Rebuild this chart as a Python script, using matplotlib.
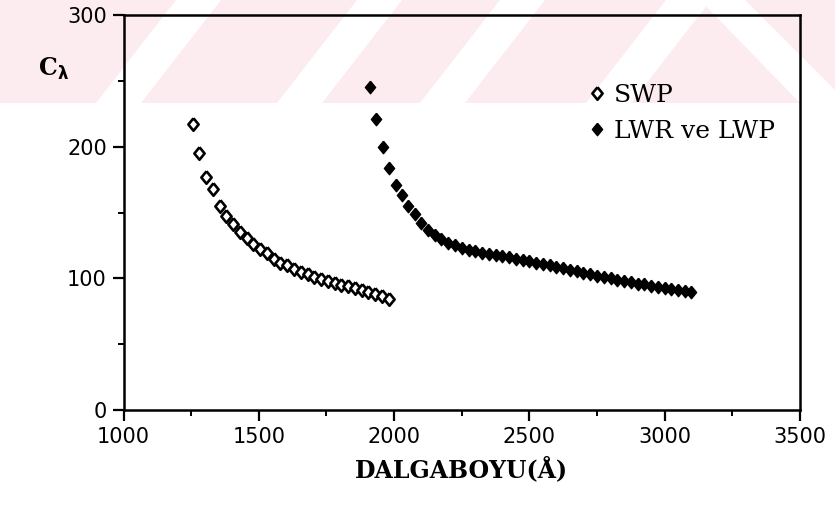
import matplotlib
matplotlib.use("Agg")
import matplotlib.pyplot as plt
from matplotlib.ticker import MultipleLocator
from matplotlib.patches import Polygon

# ---- data ----
swp_x = [1255, 1280, 1305, 1330, 1355, 1380, 1405, 1430, 1455, 1480,
         1505, 1530, 1555, 1580, 1605, 1630, 1655, 1680, 1705, 1730,
         1755, 1780, 1805, 1830, 1855, 1880, 1905, 1930, 1955, 1980]
swp_y = [217, 195, 177, 168, 155, 147, 141, 135, 131, 126,
         122, 119, 115, 112, 110, 107, 105, 103, 101, 99.5,
         98, 96.5, 95, 94, 92.5, 91, 89.5, 88, 86.5, 84]

lwr_x = [1910, 1934, 1958, 1981, 2006, 2028, 2052, 2076, 2100, 2125,
         2150, 2175, 2200, 2225, 2250, 2275, 2300, 2325, 2350, 2375,
         2400, 2425, 2450, 2475, 2500, 2525, 2550, 2575, 2600, 2625,
         2650, 2675, 2700, 2725, 2750, 2775, 2800, 2825, 2850, 2875,
         2900, 2925, 2950, 2975, 3000, 3025, 3050, 3075, 3098]
lwr_y = [245, 221, 200, 184, 171, 163, 155, 149, 142, 137,
         133, 130, 127, 125, 123, 121.5, 120.5, 119.5, 118.5, 117.5,
         117, 116, 115, 114, 113, 112, 111, 110, 108.5, 107.5,
         106.5, 105.5, 104, 103, 102, 101, 100, 99, 98, 97,
         96, 95.5, 94.5, 93.5, 93, 92, 91.5, 90.5, 89.5]

series_labels = ["SWP", "LWR ve LWP"]
x_ticks = [1000, 1500, 2000, 2500, 3000, 3500]
y_ticks = [0, 100, 200, 300]
x_label = "DALGABOYU(Å)"
y_label = r"C$_\mathbf{\lambda}$"

W, H = 835, 509

# ---- figure ----
fig = plt.figure(figsize=(W / 100, H / 100), dpi=100)
fig.patch.set_facecolor("white")

# faint watermark band at the top of the scan (background only)
def px_poly(pts, color):
    return Polygon([(x / W, 1 - y / H) for x, y in pts], closed=True,
                   transform=fig.transFigure, facecolor=color,
                   edgecolor="none", zorder=-10)

pink = "#fdecef"
band_bottom = 103
fig.add_artist(px_poly([(0, 0), (W, 0), (W, band_bottom), (0, band_bottom)], pink))
for bx in [96, 277, 420, 586]:
    fig.add_artist(px_poly([(bx, band_bottom), (bx + 45, band_bottom),
                            (bx + 45 + 80, 0), (bx + 80, 0)], "white"))
fig.add_artist(px_poly([(700, 0), (745, 0), (835, 90), (835, band_bottom),
                        (800, band_bottom)], "white"))

ax = fig.add_axes([0.148, 0.1945, 0.810, 0.776])
ax.set_facecolor("none")
ax.set_zorder(1)

diamond = [(0, 1), (0.82, 0), (0, -1), (-0.82, 0), (0, 1)]

ax.plot(swp_x, swp_y, linestyle="none", marker=diamond, markersize=9,
        markerfacecolor="white", markeredgecolor="black", markeredgewidth=1.9,
        label=series_labels[0])
ax.plot(lwr_x, lwr_y, linestyle="none", marker=diamond, markersize=9,
        markerfacecolor="black", markeredgecolor="black", markeredgewidth=1.0,
        label=series_labels[1])

ax.set_xlim(1000, 3500)
ax.set_ylim(0, 300)
ax.set_xticks(x_ticks)
ax.set_yticks(y_ticks)
ax.xaxis.set_minor_locator(MultipleLocator(250))
ax.yaxis.set_minor_locator(MultipleLocator(50))

tickfont = dict(family="DejaVu Sans", size=15)
ax.set_xticklabels([str(t) for t in x_ticks], fontdict=tickfont)
ax.set_yticklabels([str(t) for t in y_ticks], fontdict=tickfont)

ax.tick_params(which="major", direction="out", length=8, width=1.6,
               color="black", pad=4)
ax.tick_params(which="minor", direction="out", length=4, width=1.4,
               color="black")
ax.tick_params(top=False, right=False)
for s in ax.spines.values():
    s.set_linewidth(1.8)
    s.set_color("black")

ax.set_xlabel(x_label, family="DejaVu Serif", fontweight="bold", size=17,
              labelpad=7)
fig.text(0.045, 0.865, y_label, family="DejaVu Serif", fontweight="bold",
         size=17, ha="left", va="center", zorder=2)

leg = ax.legend(loc="upper left", bbox_to_anchor=(584 / W, 1 - 84 / H),
                bbox_transform=fig.transFigure,
                frameon=False, handletextpad=0.2, labelspacing=0.5,
                handlelength=1.0, borderaxespad=0.0, borderpad=0.0,
                prop=dict(family="DejaVu Serif", size=18))

fig.savefig("out.png", dpi=100, facecolor="white")
